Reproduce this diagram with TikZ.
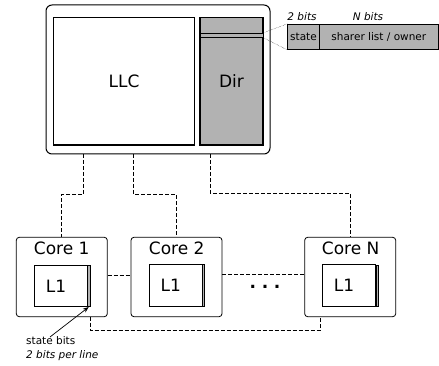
\documentclass[tikz,border=0pt]{standalone}
\usepackage{fontspec}
\setmainfont{DejaVu Sans}
\usepackage{tikz}
\usetikzlibrary{arrows.meta}

\begin{document}
\begin{tikzpicture}[x = 1pt, y = -1pt, line width = 1pt,
                    big/.style = {font = \fontsize{17}{20}\selectfont},
                    small/.style = {font = \fontsize{10.5}{12.5}\selectfont},
                    box/.style = {rectangle, draw, inner sep = 0pt},
                    corebox/.style = {box, line width = 0.8pt, rounded corners = 3pt,
                                      minimum width = 91pt, minimum height = 79.4pt},
                    l1box/.style = {box, fill = white, minimum width = 53.2pt, minimum height = 41.4pt},
                    bitsbox/.style = {box, line width = 0.6pt, fill = gray!60,
                                      minimum width = 2.5pt, minimum height = 41.4pt},
                    field/.style = {box, fill = gray!60, minimum height = 25pt, small},
                    link/.style = {dash pattern = on 4pt off 2pt}]
  \useasboundingbox (0,0) rectangle (439,366);

  \node [box, rounded corners = 6pt, minimum width = 224pt, minimum height = 149pt] (Chip) at (158,79.5) {};
  \node [box, line width = 1.3pt, minimum width = 140.6pt, minimum height = 127.3pt, big] (LLC) at (124,81.35) {LLC};
  \node [box, line width = 1.3pt, fill = gray!60, minimum width = 63pt, minimum height = 127.3pt, big] (Dir) at (231.5,81.35) {Dir};
  \node [box, fill = gray!60, minimum width = 63pt, minimum height = 4pt] (DirLine) at (231.5,35.3) {};

  \node [field, minimum width = 31.6pt] (State) at (303.5,36.8) {state};
  \node [field, minimum width = 119pt] (Sharer) at (378.8,36.8) {sharer list / owner};
  \node [small, font = \fontsize{10.5}{12.5}\selectfont\itshape] (StateW) at (302,16.7) {2 bits};
  \node [small, font = \fontsize{10.5}{12.5}\selectfont\itshape] (SharerW) at (368,16.7) {N bits};

  \node [corebox] (Core1) at (61.8,277) {};
  \node [corebox] (Core2) at (176.5,277) {};
  \node [corebox] (CoreN) at (350.2,277) {};
  \node [big] (Name1) at (61.7,248.3) {Core 1};
  \node [big] (Name2) at (176.7,248.3) {Core 2};
  \node [big] (NameN) at (350.7,248.3) {Core N};

  \node [l1box] (L1a) at (60.9,286) {};
  \node [bitsbox] (Bits1) at (88.75,286) {};
  \node [l1box] (L1b) at (175.75,285.35) {};
  \node [bitsbox] (Bits2) at (203.45,285.35) {};
  \node [l1box] (L1n) at (349.25,285.5) {};
  \node [bitsbox] (BitsN) at (377.05,285.5) {};
  \node [big] at (56,286) {L1};
  \node [big] at (170.7,285.3) {L1};
  \node [big] at (344,285.5) {L1};

  \node [big, font = \fontsize{17}{20}\selectfont\bfseries] (Dots) at (265,287) {.\,\,.\,\,.};

  \node [small, anchor = north west, align = left, inner sep = 0pt] (StateLbl) at (25.7,336.5)
        {state bits\\[1pt] \itshape 2 bits per line};

  \coordinate (T1) at (83.7,154);
  \coordinate (T2) at (133.7,154);
  \coordinate (T3) at (210.3,154);
  \coordinate (B1) at (90,316.7);
  \coordinate (BN) at (320.7,316.7);
  \coordinate (ArrowTail) at (50,337);

  \draw [thin, densely dotted] (DirLine.north east) -- (State.north west);
  \draw [thin, densely dotted] (DirLine.south east) -- (State.south west);

  \draw [link] (T1) -- (T1 |- 0,194.3) -| (Core1.north);
  \draw [link] (T2) -- (T2 |- 0,194.3) -| (Core2.north);
  \draw [link] (T3) -- (T3 |- 0,193.3) -| (CoreN.north);
  \draw [link] ([yshift = 1.7pt]Core1.east) -- ([yshift = 1.7pt]Core2.west);
  \draw [link] ([yshift = 3pt]Core2.east) -- ([yshift = 3pt]CoreN.west);
  \draw [link] (B1) -- (B1 |- 0,330) -| (BN);

  \draw [line width = 0.7pt, -{Stealth[length = 6pt, width = 4.5pt]}] (ArrowTail) -- (Bits1.south);
\end{tikzpicture}
\end{document}
